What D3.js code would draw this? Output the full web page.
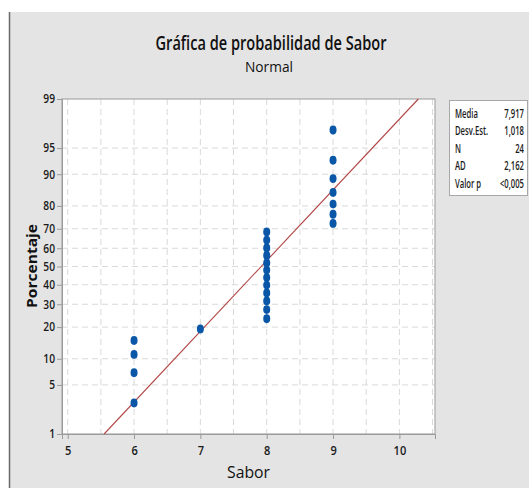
<!DOCTYPE html>
<html><head><meta charset="utf-8">
<script src="https://cdn.jsdelivr.net/npm/d3@7"></script>
<style>
html,body{margin:0;padding:0;background:#fff;}
svg{display:block;font-family:"Open Sans","Noto Sans",sans-serif;}
</style></head>
<body>
<svg id="c" width="529" height="488"></svg>
<script>
// ---- data ----
const sabor = [6,6,6,6,7,8,8,8,8,8,8,8,8,8,8,8,8,9,9,9,9,9,9,9];
const porcentaje = [2.9,7.0,11.1,15.2,19.3,23.4,27.5,31.6,35.7,39.8,43.9,48.0,52.0,56.1,60.2,64.3,68.4,72.5,76.6,80.7,84.8,88.9,93.0,97.1];
const yTicks = [1,5,10,20,30,40,50,60,70,80,90,95,99];
const xTicks = [5,6,7,8,9,10];
const statLabels = ["Media","Desv.Est.","N","AD","Valor p"];
const statValues = ["7,917","1,018","24","2,162","<0,005"];
const media = 7.917, desv = 1.018;

// inverse normal CDF (Acklam)
function qnorm(p){
  const a=[-3.969683028665376e+01,2.209460984245205e+02,-2.759285104469687e+02,1.383577518672690e+02,-3.066479806614716e+01,2.506628277459239e+00];
  const b=[-5.447609879822406e+01,1.615858368580409e+02,-1.556989798598866e+02,6.680131188771972e+01,-1.328068155288572e+01];
  const c=[-7.784894002430293e-03,-3.223964580411365e-01,-2.400758277161838e+00,-2.549671010269020e+00,4.374664141464968e+00,2.938163982698783e+00];
  const d=[7.784695709041462e-03,3.224671290700398e-01,2.445134137142996e+00,3.754408661907416e+00];
  const pl=0.02425;let q,r;
  if(p<pl){q=Math.sqrt(-2*Math.log(p));return (((((c[0]*q+c[1])*q+c[2])*q+c[3])*q+c[4])*q+c[5])/((((d[0]*q+d[1])*q+d[2])*q+d[3])*q+1);}
  if(p>1-pl){q=Math.sqrt(-2*Math.log(1-p));return -(((((c[0]*q+c[1])*q+c[2])*q+c[3])*q+c[4])*q+c[5])/((((d[0]*q+d[1])*q+d[2])*q+d[3])*q+1);}
  q=p-0.5;r=q*q;return (((((a[0]*r+a[1])*r+a[2])*r+a[3])*r+a[4])*r+a[5])*q/(((((b[0]*r+b[1])*r+b[2])*r+b[3])*r+b[4])*r+1);
}
function squeeze(sel,f){
  sel.each(function(){const w=this.getComputedTextLength();
    d3.select(this).attr("textLength",w*f).attr("lengthAdjust","spacingAndGlyphs");});
}

const svg = d3.select("#c");
// background
svg.append("rect").attr("x",10).attr("y",12).attr("width",519).attr("height",476).attr("fill","#e4e4e4");
svg.append("line").attr("x1",9.5).attr("x2",9.5).attr("y1",12).attr("y2",488).attr("stroke","#6a6a6a").attr("stroke-width",1.5);

const L=62, R=435, T=99, B=434;
const x = d3.scaleLinear().domain([4.914,10.537]).range([L,R]);
const y = d3.scaleLinear().domain([qnorm(0.01),qnorm(0.99)]).range([B,T]);
const yp = p => y(qnorm(p/100));

svg.append("rect").attr("x",L).attr("y",T).attr("width",R-L).attr("height",B-T).attr("fill","#fff");

// grid
const g = svg.append("g");
d3.range(5,10.51,0.5).forEach(v=>{
  g.append("line").attr("x1",x(v)).attr("x2",x(v)).attr("y1",T).attr("y2",B)
   .attr("stroke","#d9d9d9").attr("stroke-dasharray","6,4");
});
yTicks.filter(t=>t>1&&t<99).forEach(t=>{
  g.append("line").attr("x1",L).attr("x2",R).attr("y1",yp(t)).attr("y2",yp(t))
   .attr("stroke","#d9d9d9").attr("stroke-dasharray","6,4");
});

// border
svg.append("rect").attr("x",L).attr("y",T).attr("width",R-L).attr("height",B-T)
  .attr("fill","none").attr("stroke","#a8a8a8").attr("stroke-width",1.2);

// axes
const xAxis = d3.axisBottom(x).tickValues(xTicks).tickSize(5).tickPadding(4).tickFormat(d3.format("d"));
const xa = svg.append("g").attr("transform",`translate(0,${B})`).call(xAxis);
const yAxis = d3.axisLeft(d3.scaleLinear().domain(y.domain()).range(y.range()))
  .tickValues(yTicks.map(t=>qnorm(t/100))).tickSize(5).tickPadding(2)
  .tickFormat((d,i)=>yTicks[i]);
const ya = svg.append("g").attr("transform",`translate(${L},0)`).call(yAxis);
[xa,ya].forEach(a=>{
  a.select(".domain").attr("stroke","#9a9a9a");
  a.selectAll(".tick line").attr("stroke","#9a9a9a");
  a.selectAll("text").attr("fill","#1a1a1a").attr("font-family","'Open Sans',sans-serif").attr("font-weight","600");
});
xa.selectAll("text").attr("font-size",13).attr("dy","0.9em");
ya.selectAll("text").attr("font-size",12);
squeeze(xa.selectAll("text"),0.85);
squeeze(ya.selectAll("text"),0.85);

// fit line
svg.append("line")
  .attr("x1",x(media+desv*qnorm(0.01))).attr("y1",yp(1))
  .attr("x2",x(media+desv*qnorm(0.99))).attr("y2",yp(99))
  .attr("stroke","#b24545").attr("stroke-width",1.1);

// points
svg.append("g").selectAll("ellipse").data(sabor).join("ellipse")
  .attr("cx",d=>x(d)).attr("cy",(d,i)=>yp(porcentaje[i]))
  .attr("rx",3.5).attr("ry",4.4).attr("fill","#0a57a8");

// titles
svg.append("text").attr("x",271).attr("y",50).attr("text-anchor","middle")
  .attr("font-size",19.5).attr("font-weight","600").attr("fill","#111")
  .attr("textLength",231).attr("lengthAdjust","spacingAndGlyphs")
  .text("Gráfica de probabilidad de Sabor");
svg.append("text").attr("x",269).attr("y",72).attr("text-anchor","middle")
  .attr("font-size",14.5).attr("font-weight","500").attr("fill","#111")
  .attr("textLength",48).attr("lengthAdjust","spacingAndGlyphs").text("Normal");
svg.append("text").attr("x",248.5).attr("y",478).attr("text-anchor","middle")
  .attr("font-size",16.5).attr("font-weight","500").attr("fill","#111")
  .attr("textLength",43).attr("lengthAdjust","spacingAndGlyphs").text("Sabor");
svg.append("text").attr("transform","translate(37,266) rotate(-90)").attr("text-anchor","middle")
  .attr("font-size",14).attr("font-weight","700").attr("fill","#111")
  .attr("textLength",84).attr("lengthAdjust","spacingAndGlyphs").text("Porcentaje");

// stats box
svg.append("rect").attr("x",449.5).attr("y",100.5).attr("width",78).attr("height",95)
  .attr("fill","#fff").attr("stroke","#a8a8a8");
const sx = 0.64;
const st = svg.append("g").attr("transform",`translate(455,0) scale(${sx},1)`)
  .attr("font-size",12).attr("font-weight","600");
statLabels.forEach((s,i)=>{
  st.append("text").attr("x",0).attr("y",118+i*17.5).attr("fill","#1a1a1a").text(s);
  st.append("text").attr("x",(524-455)/sx).attr("y",118+i*17.5).attr("text-anchor","end").attr("fill","#1a1a1a").text(statValues[i]);
});
</script>
</body></html>
